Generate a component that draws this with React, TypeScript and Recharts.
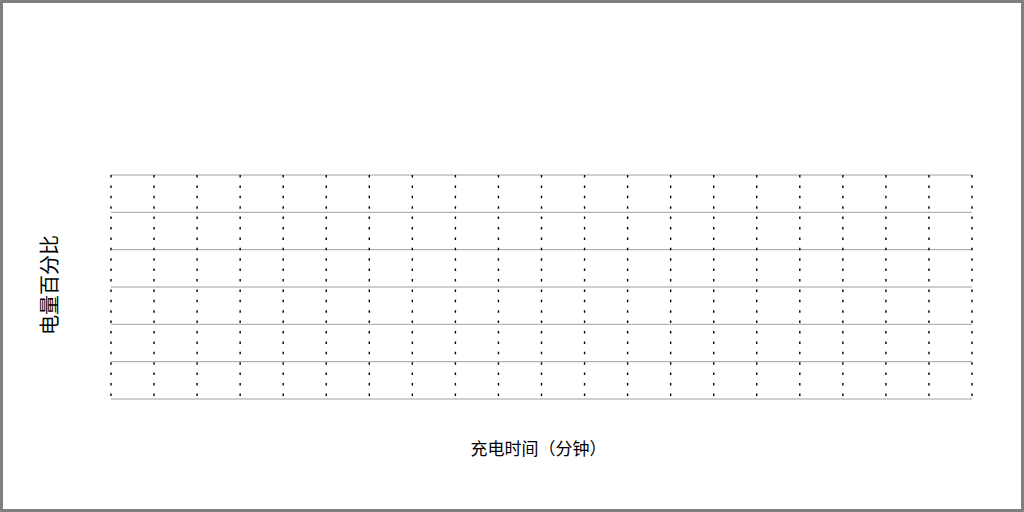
import React from 'react';
import { ComposedChart, XAxis, YAxis, CartesianGrid } from 'recharts';

// Charging time (minutes) tick values along the x axis
const timeTicks: number[] = [0, 5, 10, 15, 20, 25, 30, 35, 40, 45, 50, 55, 60, 65, 70, 75, 80, 85, 90, 95, 100];
// Battery percentage tick values along the y axis
const percentTicks: number[] = [0, 20, 40, 60, 80, 100, 120];

const xTitle = '充电时间（分钟）';
const yTitle = '电量百分比';

const chartData = timeTicks.map((t) => ({ time: t }));

const FONT = '"Noto Sans CJK SC", "Noto Sans", sans-serif';

const XTitle = (props: any) => {
  const vb = props.viewBox || {};
  const cx = vb.x + vb.width / 2 - 3;
  const cy = vb.y + 48;
  return (
    <text x={cx} y={cy} textAnchor="middle" dominantBaseline="central" fontSize={17} fontFamily={FONT} fill="#000">
      {xTitle}
    </text>
  );
};

const YTitle = (props: any) => {
  const vb = props.viewBox || {};
  const cx = 48;
  const cy = vb.y + vb.height / 2 - 2;
  return (
    <text
      x={cx}
      y={cy}
      textAnchor="middle"
      dominantBaseline="central"
      fontSize={20}
      fontFamily={FONT}
      fill="#000"
      transform={`rotate(-90, ${cx}, ${cy})`}
    >
      {yTitle}
    </text>
  );
};

const EmptyTick = () => <g />;

export default function App() {
  return (
    <div style={{ position: 'absolute', left: 0, top: 0, width: 1024, height: 512, background: '#fff' }}>
      <ComposedChart
        width={1024}
        height={512}
        data={chartData}
        margin={{ top: 175, right: 52, bottom: 0, left: 0 }}
      >
        <CartesianGrid horizontal={true} vertical={false} stroke="#a0a0a0" strokeWidth={1} />
        <CartesianGrid horizontal={false} vertical={true} stroke="#000" strokeWidth={1.4} strokeDasharray="2.5 7.9" />
        <XAxis
          dataKey="time"
          type="number"
          domain={[0, 100]}
          allowDataOverflow={true}
          ticks={timeTicks}
          interval={0}
          tick={EmptyTick}
          tickLine={false}
          axisLine={false}
          height={113}
          label={<XTitle />}
        />
        <YAxis
          type="number"
          domain={[0, 120]}
          allowDataOverflow={true}
          ticks={percentTicks}
          interval={0}
          tick={EmptyTick}
          tickLine={false}
          axisLine={false}
          width={111}
          label={<YTitle />}
        />
      </ComposedChart>
      <div
        style={{
          position: 'absolute',
          left: 0,
          top: 0,
          width: 1024,
          height: 512,
          border: '3px solid #808080',
          boxSizing: 'border-box',
          pointerEvents: 'none',
        }}
      />
    </div>
  );
}
